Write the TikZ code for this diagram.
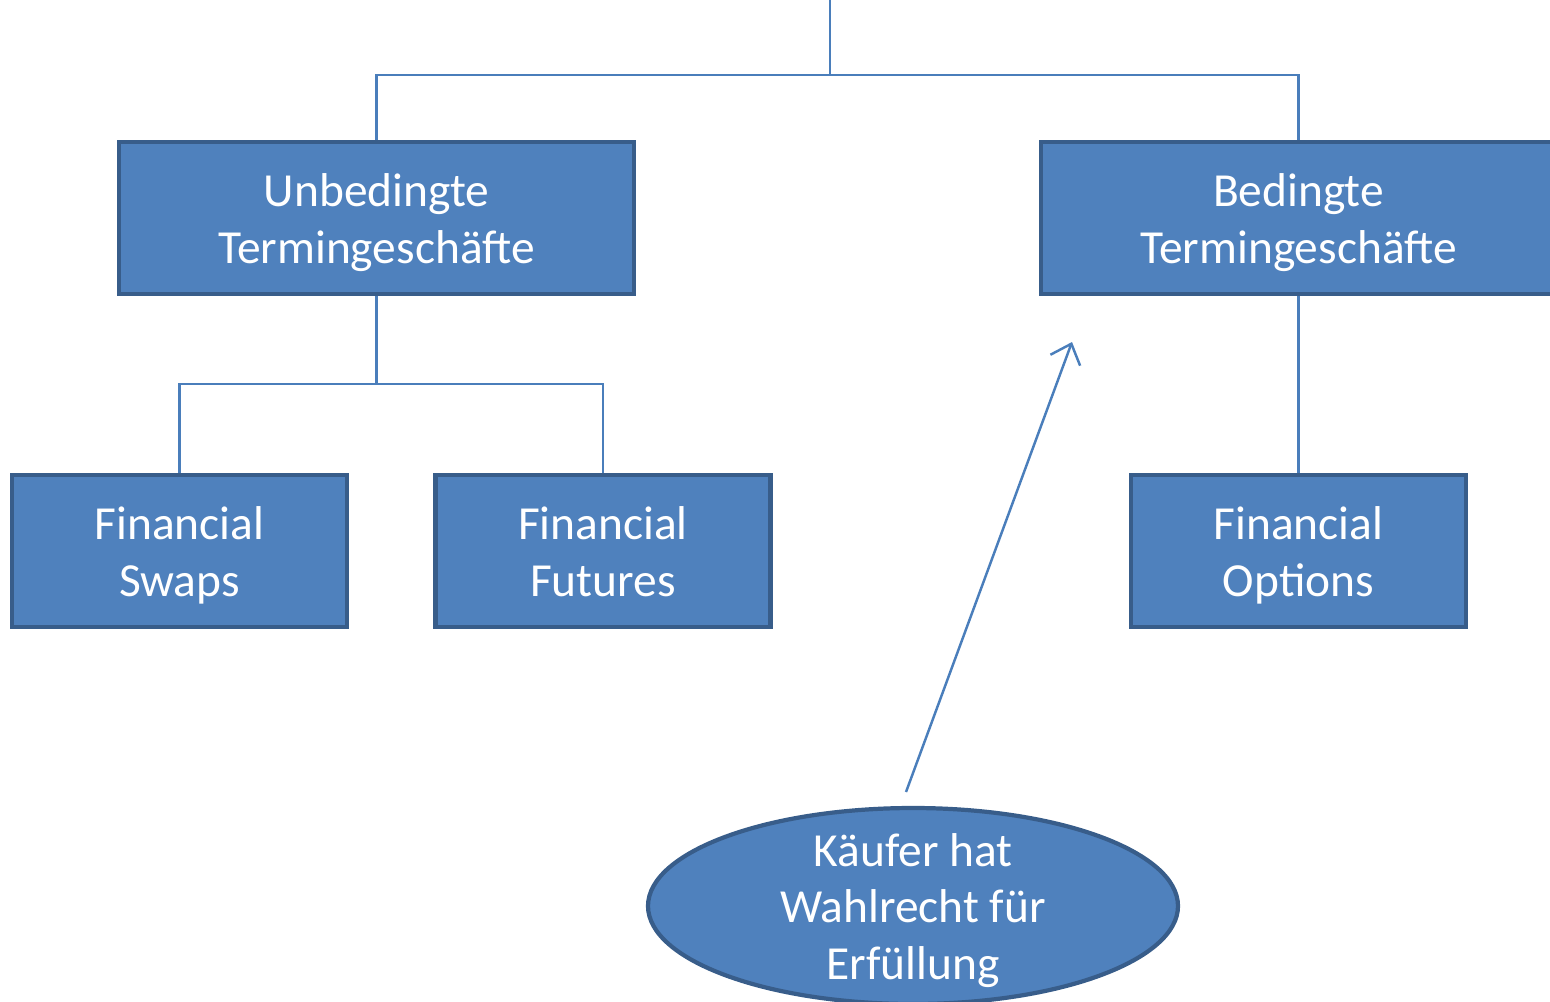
\documentclass[tikz,border=0pt]{standalone}
\usepackage{fontspec}
\setmainfont{Carlito}
\usepackage{xcolor}
\usepackage{tikz}
\usetikzlibrary{shapes.geometric,arrows.meta}
\definecolor{BoxFill}{HTML}{4F81BD}
\definecolor{BoxEdge}{HTML}{385D8A}
\definecolor{LinkBlue}{HTML}{4A7EBB}

\begin{document}
\begin{tikzpicture}[
  box/.style={rectangle, draw=BoxEdge, line width=1.2pt, fill=BoxFill, align=center, text=white, minimum height=1.52cm, inner ysep=0pt, font=\fontsize{13.5}{16.2}\selectfont, text height=30.9pt, text depth=4.9pt},
  bigbox/.style={box, minimum width=5.15cm},
  smallbox/.style={box, minimum width=3.35cm},
  bubble/.style={ellipse, draw=BoxEdge, line width=1.2pt, fill=BoxFill, minimum width=5.3cm, minimum height=1.96cm, inner sep=0pt},
  bubbletext/.style={align=center, text=white, inner sep=0pt, font=\fontsize{13.5}{16.2}\selectfont, execute at begin node=\strut, execute at end node=\strut},
  link/.style={draw=LinkBlue, line width=0.6pt},
  pointer/.style={-{Straight Barb[length=5pt,width=9pt]}, draw=LinkBlue, line width=0.7pt}
]
\useasboundingbox (0,0) rectangle (15.5,-10.01);

\node[bigbox] (unbed) at (3.765,-2.18) {Unbedingte\\Termingeschäfte};
\node[bigbox] (bed) at (12.985,-2.18) {Bedingte\\Termingeschäfte};

\node[smallbox] (swaps) at (1.795,-5.51) {Financial\\Swaps};
\node[smallbox] (futures) at (6.03,-5.51) {Financial\\Futures};
\node[smallbox] (options) at (12.985,-5.51) {Financial\\Options};

\node[bubble] (kaeufer) at (9.13,-9.06) {};
\node[bubbletext] (kaeufertext) at (9.13,-9.15) {Käufer hat\\Wahlrecht für\\Erfüllung};

\coordinate (top) at (8.30,0);
\coordinate (split) at (8.30,-0.75);
\coordinate (usplit) at (3.765,-3.84);
\coordinate (armtail) at (9.06,-7.92);
\coordinate (armhead) at (10.72,-3.42);

\draw[link] (top) -- (split) -| (unbed.north);
\draw[link] (split) -| (bed.north);
\draw[link] (unbed.south) -- (usplit) -| (swaps.north);
\draw[link] (usplit) -| (futures.north);
\draw[link] (bed.south) -- (options.north);
\draw[pointer] (armtail) -- (armhead);
\end{tikzpicture}
\end{document}
